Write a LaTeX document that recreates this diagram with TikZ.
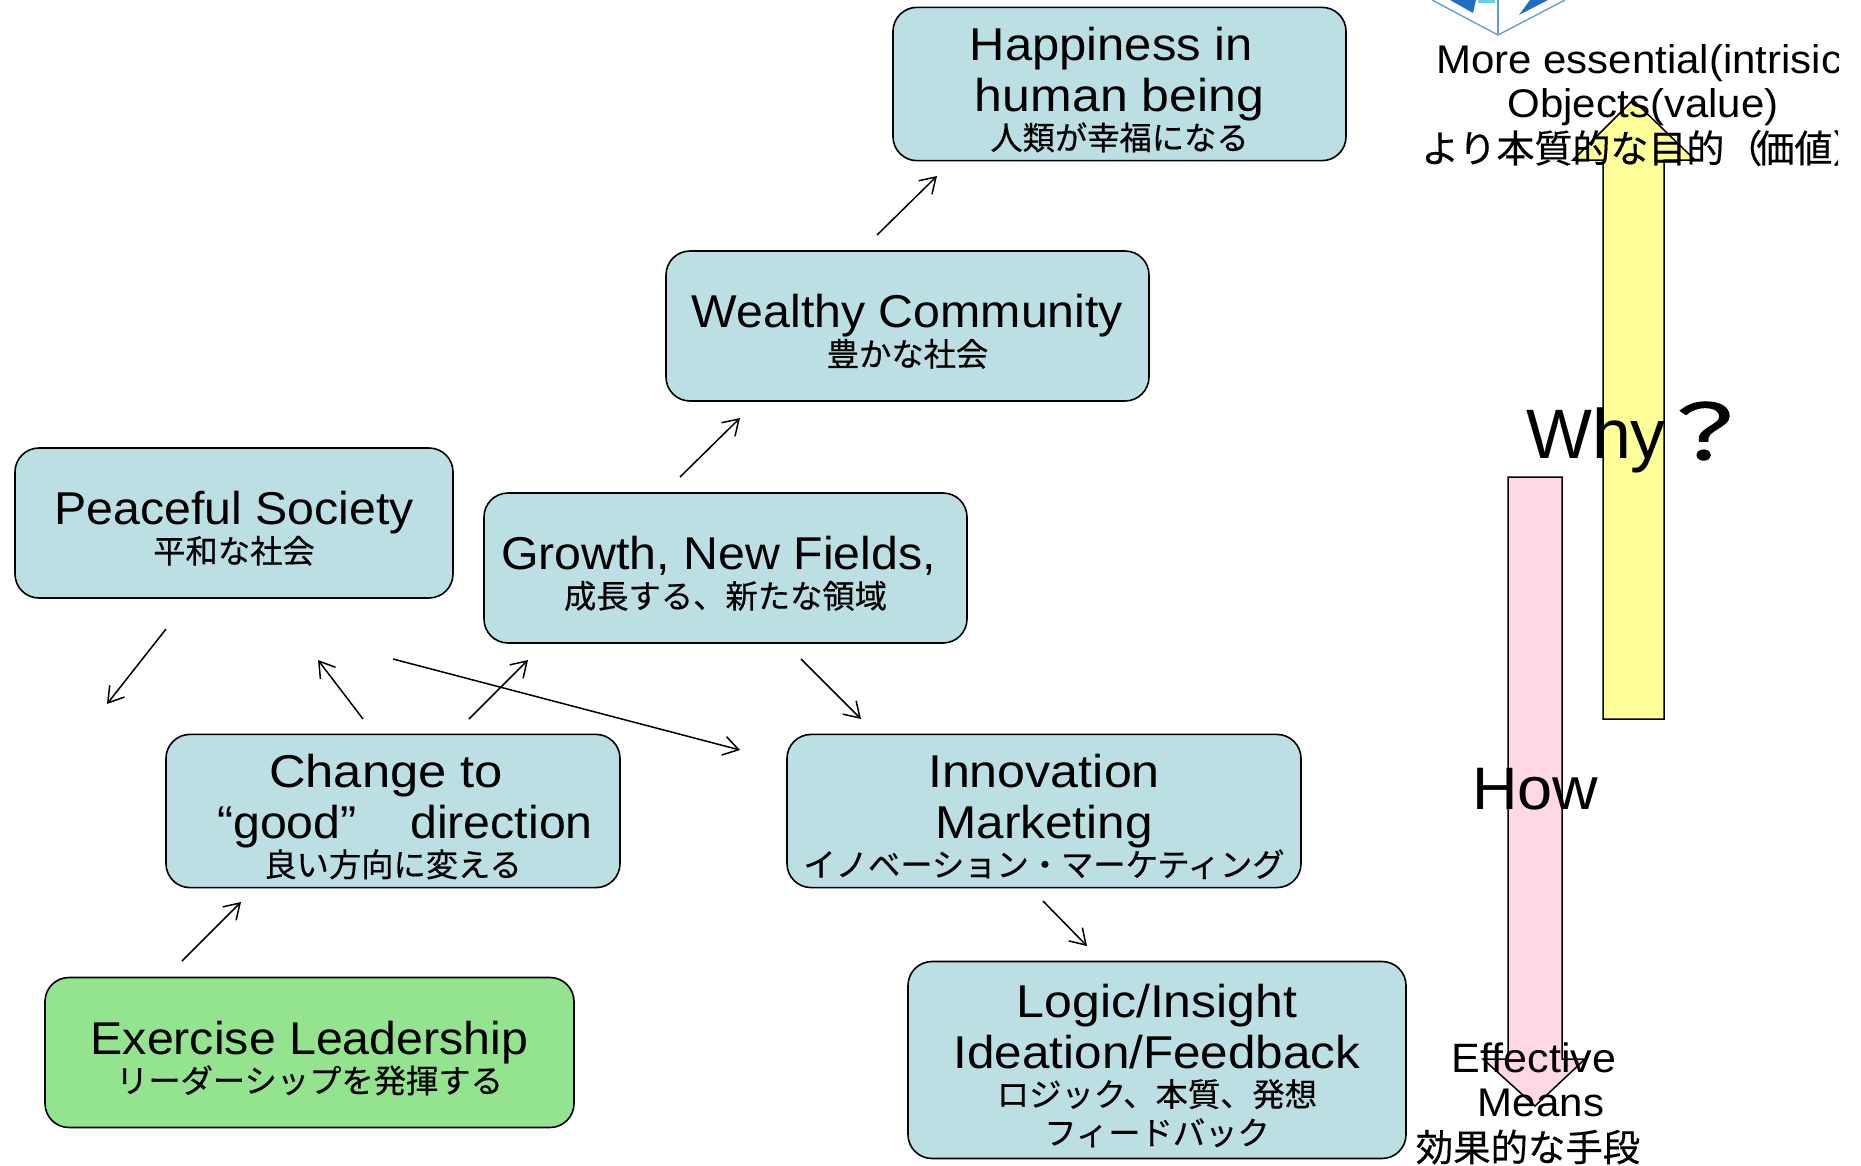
\documentclass[tikz,border=0pt]{standalone}
\usepackage{fontspec}
\usepackage{graphicx}
\usetikzlibrary{arrows.meta}
\setmainfont[FakeStretch=1.05]{Liberation Sans}
\newfontfamily\jpf[FakeBold=0.4]{Noto Sans CJK JP}
\newfontfamily\jpb[FakeBold=1.5]{Noto Sans CJK JP}
\definecolor{boxblue}{HTML}{BBDFE3}
\definecolor{boxgreen}{HTML}{93E38F}
\definecolor{arrowyellow}{HTML}{FFFF99}
\definecolor{arrowpink}{HTML}{FFD7E6}
\definecolor{logoblue}{HTML}{1F6FC0}
\newcommand{\ent}[2][1]{{\fontsize{46}{51}\selectfont\rule[-10pt]{0pt}{63pt}\scalebox{#1}[1]{#2}}}
\newcommand{\enl}[2][1]{{\fontsize{46}{51}\selectfont\rule[-10pt]{0pt}{50pt}\scalebox{#1}[1]{#2}}}
\newcommand{\jpl}[1]{{\jpf\fontsize{32.3}{36}\selectfont\rule[-11pt]{0pt}{36pt}#1}}
\tikzset{
  roundbox/.style={draw=black,line width=1.6pt,rounded corners=24pt,fill=boxblue,align=center,inner sep=0pt},
  link/.style={draw=black,line width=1.5pt,-{Straight Barb[length=15pt,width=19pt,line width=1.5pt]}},
  freetext/.style={align=center,inner sep=0pt,text=black}
}
\begin{document}
\begin{tikzpicture}[x=1pt,y=-1pt]
\useasboundingbox (0,0) rectangle (1861,1165);
\fill[white] (0,0) rectangle (1861,1165);
% logo
\begin{scope}
\clip (1400,0) rectangle (1600,40);
\draw[logoblue!70,line width=1.3pt,fill=white] (1432,0) -- (1498,35) -- (1565,0);
\draw[logoblue!70,line width=1.3pt] (1498,0) -- (1498,35);
\fill[logoblue] (1450,0) -- (1473,13) -- (1476,0) -- cycle;
\fill[logoblue] (1530,0) -- (1519,15) -- (1548,0) -- cycle;
\fill[cyan!60] (1478,0) rectangle (1495,3);
\end{scope}
% block arrows
\draw[fill=arrowyellow,line width=1.5pt] (1603,719) -- (1603,160) -- (1573,160) -- (1633,100) -- (1695,160) -- (1664,160) -- (1664,719) -- cycle;
\draw[fill=arrowpink,line width=1.5pt] (1508,477) -- (1562,477) -- (1562,1059) -- (1585,1059) -- (1535,1106) -- (1483,1059) -- (1508,1059) -- cycle;
% boxes
\node[roundbox,minimum width=453pt,minimum height=150pt] (hap) at (1119.5,84) {\ent[1.013]{Happiness in\hspace{16pt}}\\\enl[1.035]{human being}\\\jpl{人類が幸福になる}};
\node[roundbox,minimum width=483pt,minimum height=150pt] (wea) at (907.5,326) {\ent{Wealthy Community}\\\jpl{豊かな社会}};
\node[roundbox,minimum width=438pt,minimum height=150pt] (pea) at (234,523) {\ent{Peaceful Society}\\\jpl{平和な社会}};
\node[roundbox,minimum width=483pt,minimum height=150pt] (gro) at (725.5,568) {\ent{Growth, New Fields,\hspace{14pt}}\\\jpl{成長する、新たな領域}};
\node[roundbox,minimum width=454pt,minimum height=150pt] (cha) at (393,811) {\ent[1.05]{Change to\hspace{13pt}}\\\enl{\hspace{24pt}“good”\ \ \ \ direction}\\\jpl{良い方向に変える}};
\node[roundbox,minimum width=514pt,minimum height=150pt] (inn) at (1044,811) {\ent[1.04]{Innovation}\\\enl[1.025]{Marketing}\\\jpl{イノベーション・マーケティング}};
\node[roundbox,minimum width=498pt,minimum height=197pt] (logi) at (1157,1060) {\ent[1.035]{Logic/Insight}\\\enl[1.024]{Ideation/Feedback}\\\jpl{ロジック、本質、発想}\\\jpl{フィードバック}};
\node[roundbox,fill=boxgreen,minimum width=529pt,minimum height=150pt] (exe) at (309.5,1052.5) {\ent{Exercise Leadership}\\\jpl{リーダーシップを発揮する}};
% connector ends
\coordinate (a1) at (877,235); \coordinate (b1) at (937,176);
\coordinate (a2) at (680,477); \coordinate (b2) at (740,418);
\coordinate (a3) at (166,629); \coordinate (b3) at (107,704);
\coordinate (a4) at (363,719); \coordinate (b4) at (318,660);
\coordinate (a5) at (469,719); \coordinate (b5) at (528,660);
\coordinate (a6) at (393,659); \coordinate (b6) at (740,750);
\coordinate (a7) at (801,659); \coordinate (b7) at (861,719);
\coordinate (a8) at (182,961); \coordinate (b8) at (241,902);
\coordinate (a9) at (1043,901); \coordinate (b9) at (1087,946);
\foreach \i in {1,...,9} \draw[link] (a\i) -- (b\i);
% free labels
\begin{scope}
\clip (0,0) rectangle (1838,1165);
\node[freetext,anchor=west] (ess1) at (1436,63) {\fontsize{40}{46}\selectfont More essential(intrisic)};
\node[freetext,anchor=west] (ess3) at (1421,148) {\jpf\fontsize{38}{46}\selectfont より本質的な目的（\hspace{-6pt}価値）};
\end{scope}
\node[freetext] (ess2) at (1643,107) {\fontsize{40}{46}\selectfont Objects(value)};
\node[freetext,anchor=west] (why) at (1526,440) {\fontsize{70}{74}\selectfont\scalebox{0.95}[1]{Why}};
\node[freetext] (qm) at (1705,431) {\jpb\fontsize{100}{104}\selectfont\scalebox{1}[0.76]{？}};
\node[freetext] (how) at (1535,789) {\fontsize{60}{64}\selectfont How};
\node[freetext] (eff1) at (1534,1058) {\fontsize{41}{46}\selectfont Effective};
\node[freetext] (eff2) at (1541,1103) {\fontsize{40}{46}\selectfont Means};
\node[freetext] (eff3) at (1528,1147) {\jpf\fontsize{37.4}{44}\selectfont 効果的な手段};
\end{tikzpicture}
\end{document}
